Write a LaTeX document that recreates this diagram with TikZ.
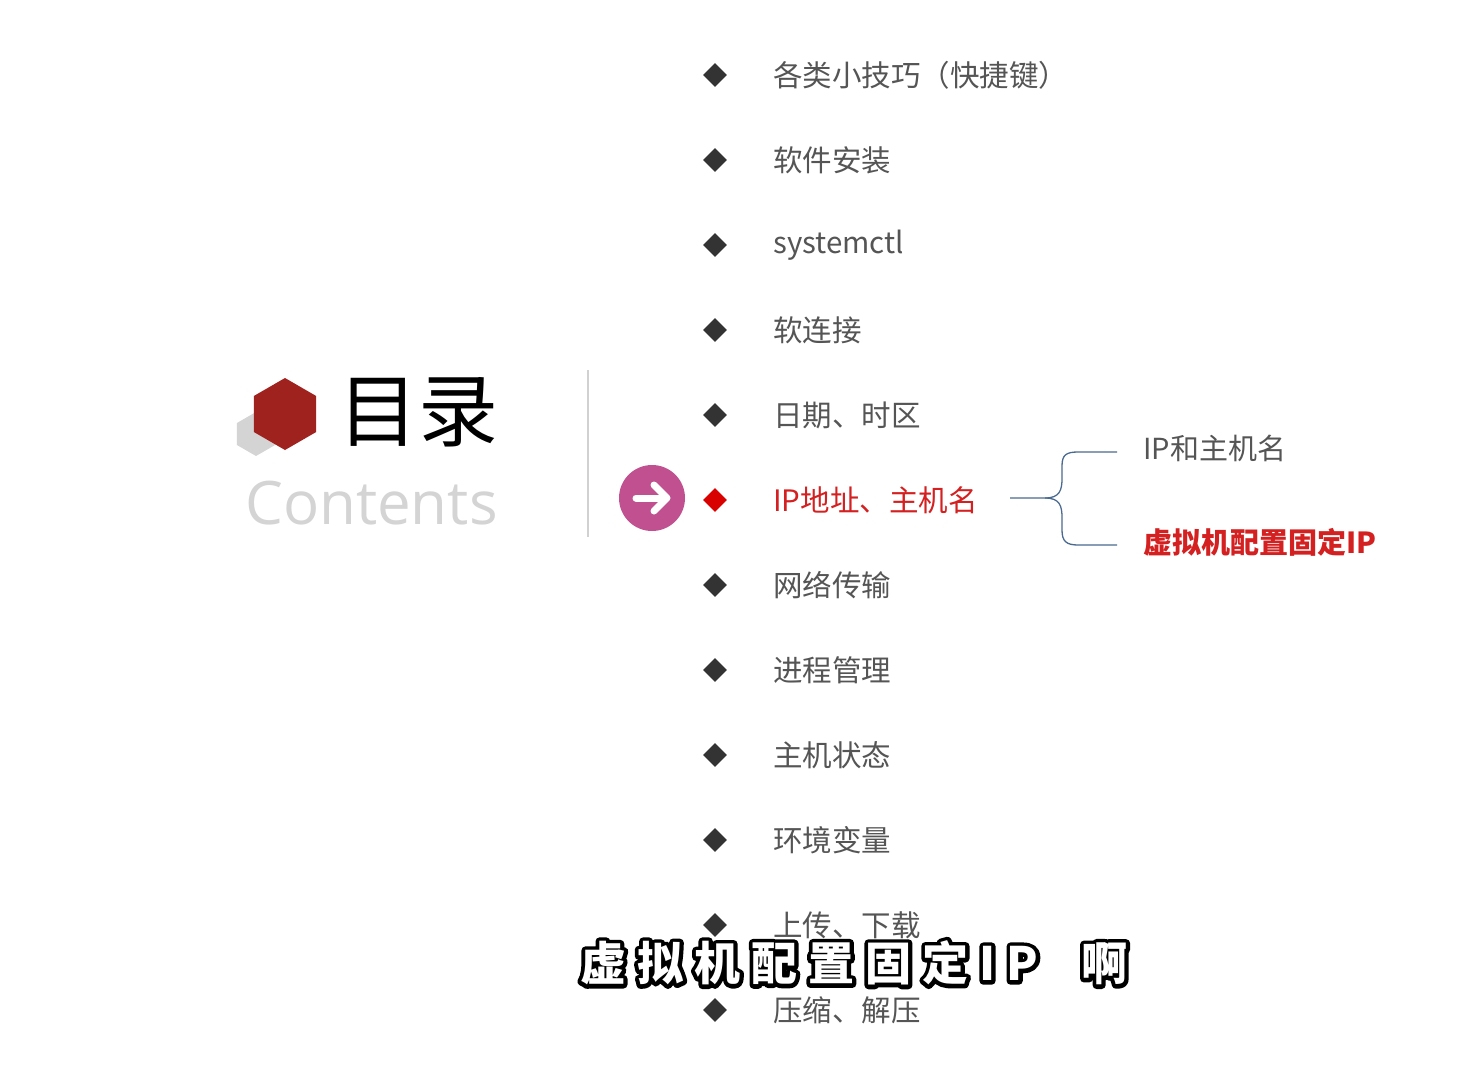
\documentclass[tikz,border=0pt]{standalone}
\usepackage{fontspec}
\setmainfont{Noto Sans CJK SC}
\newfontfamily\cjk{Noto Sans CJK SC}
\newfontfamily\cjksub[LetterSpace=24]{Noto Sans CJK SC}
\newfontfamily\latsans{Open Sans}
\usetikzlibrary{shapes.geometric}
\definecolor{itemgray}{HTML}{555555}
\definecolor{hexred}{HTML}{A0221F}
\definecolor{redtxt}{HTML}{D42020}
\definecolor{purp}{HTML}{C0508F}
\definecolor{bracecol}{HTML}{4A6A90}
\begin{document}
\begin{tikzpicture}[x=1pt,y=-1pt,
  item/.style={anchor=west,font=\cjk\fontsize{29.5}{31}\selectfont,text=itemgray,inner sep=0},
  bul/.style={diamond,fill=black!80,inner sep=0,minimum size=24},
  sub/.style={font=\cjksub\bfseries\fontsize{46}{50}\selectfont,anchor=west,inner sep=0}]
\useasboundingbox (0,0) rectangle (1474,1065);
\fill[white] (0,0) rectangle (1474,1065);
% logo
\node[regular polygon,regular polygon sides=6,rotate=30,fill=black!17,minimum size=44,inner sep=0] (hg) at (256,434) {};
\node[regular polygon,regular polygon sides=6,rotate=30,fill=hexred,minimum size=72,inner sep=0] (hr) at (285,414) {};
\node[anchor=west,inner sep=0,font=\cjk\fontsize{80}{82}\selectfont] (mulu) at (338,412) {目录};
\node[anchor=west,inner sep=0,font=\latsans\fontsize{60}{62}\selectfont,text=black!17] (cont) at (245,503) {Contents};
\draw[black!18,line width=1.2] (588,370) -- (588,537);
% arrow circle
\node[circle,fill=purp,minimum size=66,inner sep=0] (circ) at (652,498) {};
\draw[white,line width=7,line cap=round,line join=round] ([xshift=-16]circ.center) -- ([xshift=14]circ.center);
\draw[white,line width=7,line cap=round,line join=round] ([xshift=2,yshift=-13]circ.center) -- ([xshift=15]circ.center) -- ([xshift=2,yshift=13]circ.center);
% items
\foreach \y/\t [count=\i] in {75/各类小技巧（快捷键）,160/软件安装,245/systemctl,330/软连接,415/日期、时区,585/网络传输,670/进程管理,755/主机状态,840/环境变量,925/上传、下载,1010/压缩、解压}{
  \node[bul] (b\i) at (715,\y) {};
  \node[item] (t\i) at (773,\y) {\t};
}
\node[bul,fill=red!85!black] (bip) at (715,500) {};
\node[item,text=redtxt] (tip) at (773,500) {IP地址、主机名};
% brace
\coordinate (bs) at (1010,498);
\coordinate (bu) at (1117,452);
\coordinate (bd) at (1117,545);
\draw[bracecol,line width=1.3] (bs) -- (1045,498) .. controls (1060,498) and (1062,490) .. (1062,478) -- (1062,466) .. controls (1062,455) and (1066,452) .. (1078,452) -- (bu);
\draw[bracecol,line width=1.3] (1045,498) .. controls (1060,498) and (1062,506) .. (1062,518) -- (1062,530) .. controls (1062,541) and (1066,545) .. (1078,545) -- (bd);
\node[anchor=west,inner sep=0,font=\cjk\fontsize{29}{31}\selectfont,text=itemgray] (s1) at (1143,448) {IP和主机名};
\node[anchor=west,inner sep=0,font=\cjk\bfseries\fontsize{29}{31}\selectfont,text=redtxt] (s2) at (1143,542) {虚拟机配置固定IP};
% subtitle
\node[sub] (subo) at (580,963) {\special{pdf:literal direct 1 Tr 0 0 0 RG 8 w 1 j}虚拟机配置固定IP\ \ 啊\special{pdf:literal direct 0 Tr}};
\node[sub,text=white] (subt) at (580,963) {虚拟机配置固定IP\ \ 啊};
\end{tikzpicture}
\end{document}
